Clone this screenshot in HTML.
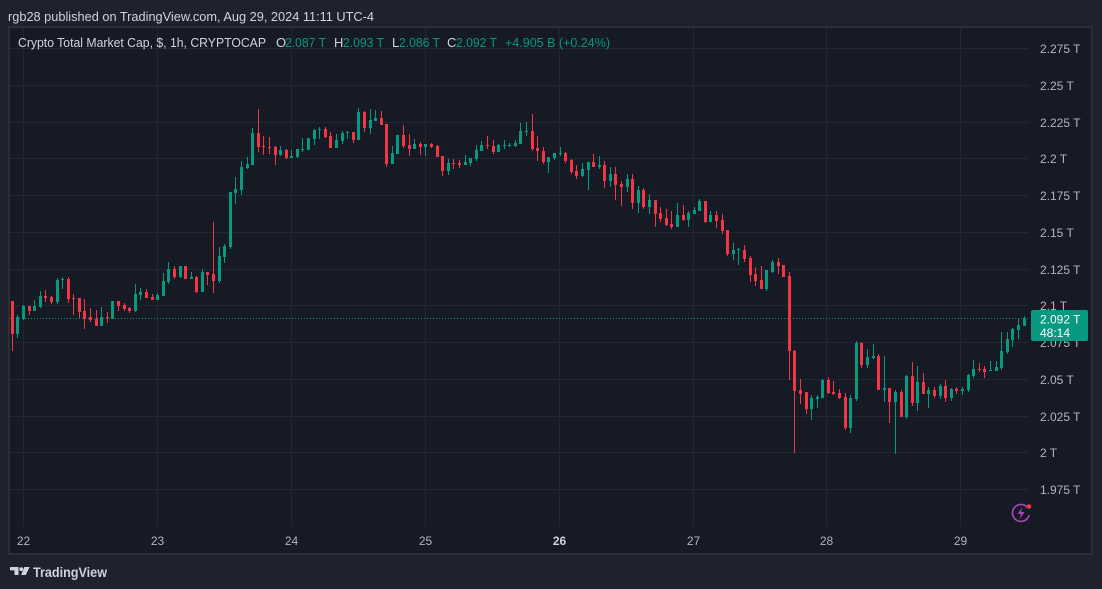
<!DOCTYPE html>
<html><head><meta charset="utf-8"><style>
html,body{margin:0;padding:0;background:#1e222d;width:1102px;height:589px;overflow:hidden}
svg{display:block}
text{font-family:"Liberation Sans",sans-serif}
</style></head><body>
<svg width="1102" height="589" viewBox="0 0 1102 589" xmlns="http://www.w3.org/2000/svg">
<rect x="0" y="0" width="1102" height="589" fill="#1e222d"/>
<text x="8" y="21" font-size="13" fill="#d1d4dc" textLength="366" lengthAdjust="spacingAndGlyphs">rgb28 published on TradingView.com, Aug 29, 2024 11:11 UTC-4</text>
<rect x="9" y="27" width="1083" height="527" fill="#161a25" stroke="#2a2e39" stroke-width="2"/>
<g stroke="#232734" stroke-width="1" shape-rendering="crispEdges">
<path d="M10 48.5H1029M10 85.5H1029M10 122.5H1029M10 158.5H1029M10 195.5H1029M10 232.5H1029M10 269.5H1029M10 305.5H1029M10 342.5H1029M10 379.5H1029M10 416.5H1029M10 452.5H1029M10 489.5H1029"/>
<path d="M23.5 28V526M157.5 28V526M291.5 28V526M425.5 28V526M559.5 28V526M693.5 28V526M826.5 28V526M960.5 28V526"/>
</g>
<text x="18" y="47" font-size="13" fill="#d1d4dc" textLength="248" lengthAdjust="spacingAndGlyphs">Crypto Total Market Cap, $, 1h, CRYPTOCAP</text>
<g font-size="13">
<text x="276" y="47" fill="#d1d4dc">O</text><text x="285" y="47" fill="#089981" textLength="41" lengthAdjust="spacingAndGlyphs">2.087 T</text>
<text x="334" y="47" fill="#d1d4dc">H</text><text x="343" y="47" fill="#089981" textLength="41" lengthAdjust="spacingAndGlyphs">2.093 T</text>
<text x="392" y="47" fill="#d1d4dc">L</text><text x="399" y="47" fill="#089981" textLength="41" lengthAdjust="spacingAndGlyphs">2.086 T</text>
<text x="447" y="47" fill="#d1d4dc">C</text><text x="456" y="47" fill="#089981" textLength="41" lengthAdjust="spacingAndGlyphs">2.092 T</text>
<text x="505" y="47" fill="#089981" textLength="105" lengthAdjust="spacingAndGlyphs">+4.905 B (+0.24%)</text>
</g>
<path d="M10 318.5H1030" stroke="#089981" stroke-width="1" stroke-dasharray="1 2" shape-rendering="crispEdges"/>
<g shape-rendering="crispEdges">
<path fill="none" stroke="#089981" stroke-width="1" d="M17.5 315V338M23.5 305V320M34.5 300V311M40.5 291V308M57.5 278V304M62.5 277V289M101.5 307V326M112.5 301V319M135.5 284V312M140.5 288V300M157.5 293V300M163.5 273V296M168.5 262V284M180.5 266V278M191.5 272V279M202.5 269V292M219.5 247V283M224.5 244V263M230.5 192V249M235.5 177V204M241.5 161V195M247.5 157V169M252.5 128V165M280.5 146V156M291.5 150V158M297.5 149V158M302.5 138V152M308.5 138V150M314.5 129V145M319.5 127V139M336.5 134V148M342.5 131V144M347.5 131V139M358.5 108V140M370.5 109V134M375.5 110V121M392.5 146V164M397.5 135V154M414.5 139V149M425.5 144V156M448.5 159V175M465.5 155V165M470.5 158V166M476.5 145V161M481.5 141V151M498.5 144V152M504.5 140V149M509.5 143V147M515.5 140V147M520.5 123V144M526.5 122V136M548.5 157V173M554.5 153V160M560.5 147V156M582.5 163V177M588.5 162V190M599.5 156V169M610.5 167V187M627.5 174V192M638.5 186V213M649.5 194V214M677.5 203V227M688.5 211V227M694.5 207V214M699.5 199V211M710.5 211V222M733.5 243V260M738.5 248V265M766.5 270V291M772.5 260V273M811.5 395V420M817.5 395V408M822.5 379V398M850.5 395V433M856.5 341V401M867.5 349V368M873.5 344V359M884.5 356V402M895.5 390V454M906.5 375V419M917.5 366V411M928.5 387V408M940.5 384V399M951.5 388V401M962.5 387V395M968.5 374V392M973.5 360V378M990.5 361V371M996.5 361V371M1001.5 332V370M1007.5 332V354M1012.5 328V347M1018.5 319V339M1024.5 316V326"/>
<path fill="#089981" d="M16 317h3V334h-3zM22 306h3V319h-3zM33 306h3V311h-3zM39 296h3V307h-3zM56 280h3V302h-3zM61 279h3V280h-3zM100 317h3V326h-3zM111 301h3V319h-3zM134 294h3V311h-3zM139 292h3V295h-3zM156 295h3V300h-3zM162 281h3V296h-3zM167 269h3V282h-3zM179 266h3V277h-3zM190 277h3V279h-3zM201 272h3V292h-3zM218 256h3V281h-3zM223 246h3V257h-3zM229 192h3V247h-3zM234 189h3V193h-3zM240 167h3V190h-3zM246 164h3V168h-3zM251 133h3V165h-3zM279 150h3V155h-3zM290 156h3V158h-3zM296 149h3V157h-3zM301 149h3V150h-3zM307 138h3V150h-3zM313 130h3V139h-3zM318 129h3V130h-3zM335 140h3V148h-3zM341 133h3V141h-3zM346 132h3V133h-3zM357 112h3V140h-3zM369 120h3V128h-3zM374 118h3V121h-3zM391 153h3V164h-3zM396 135h3V154h-3zM413 144h3V149h-3zM424 144h3V147h-3zM447 163h3V171h-3zM464 162h3V165h-3zM469 158h3V163h-3zM475 150h3V159h-3zM480 145h3V151h-3zM497 145h3V152h-3zM503 145h3V146h-3zM508 145h3V146h-3zM514 143h3V146h-3zM519 131h3V144h-3zM525 131h3V132h-3zM547 157h3V162h-3zM553 153h3V158h-3zM559 153h3V154h-3zM581 169h3V176h-3zM587 162h3V170h-3zM598 165h3V167h-3zM609 174h3V181h-3zM626 179h3V187h-3zM637 190h3V203h-3zM648 200h3V207h-3zM676 215h3V227h-3zM687 213h3V220h-3zM693 210h3V214h-3zM698 201h3V211h-3zM709 215h3V222h-3zM732 250h3V254h-3zM737 249h3V250h-3zM765 270h3V289h-3zM771 262h3V272h-3zM810 398h3V409h-3zM816 397h3V399h-3zM821 380h3V398h-3zM849 398h3V428h-3zM855 343h3V399h-3zM866 357h3V365h-3zM872 356h3V358h-3zM883 388h3V390h-3zM894 392h3V402h-3zM905 376h3V417h-3zM916 382h3V403h-3zM927 390h3V394h-3zM939 386h3V396h-3zM950 389h3V398h-3zM961 389h3V391h-3zM967 375h3V390h-3zM972 369h3V376h-3zM989 370h3V371h-3zM995 367h3V371h-3zM1000 351h3V368h-3zM1006 339h3V352h-3zM1011 329h3V340h-3zM1017 325h3V330h-3zM1023 318h3V326h-3z"/>
<path fill="none" stroke="#f23645" stroke-width="1" d="M12.5 301V351M29.5 306V315M45.5 290V302M51.5 296V304M68.5 277V303M73.5 294V315M79.5 298V318M84.5 299V329M90.5 308V322M96.5 310V326M107.5 312V323M118.5 301V311M124.5 303V311M129.5 307V313M146.5 289V298M152.5 294V300M174.5 266V279M185.5 266V279M196.5 276V293M207.5 272V285M213.5 222V293M258.5 109V152M263.5 136V155M269.5 137V154M275.5 146V165M286.5 149V159M325.5 127V138M330.5 132V148M353.5 132V143M364.5 111V132M381.5 111V125M386.5 124V167M403.5 125V148M409.5 134V156M420.5 142V155M431.5 143V148M437.5 145V157M442.5 156V176M453.5 159V169M459.5 160V168M487.5 136V149M493.5 140V154M532.5 114V151M537.5 136V161M543.5 147V164M565.5 152V163M571.5 159V174M576.5 165V179M593.5 154V167M604.5 161V188M615.5 167V200M621.5 181V206M632.5 174V209M643.5 188V209M655.5 200V227M660.5 207V222M666.5 209V226M671.5 211V229M683.5 205V221M705.5 201V223M716.5 211V228M722.5 214V234M727.5 230V256M744.5 245V262M750.5 256V282M755.5 267V286M761.5 266V289M778.5 258V274M783.5 265V277M789.5 272V380M794.5 350V453M800.5 379V404M806.5 392V414M828.5 377V394M833.5 381V395M839.5 389V399M845.5 393V430M861.5 342V368M878.5 354V390M889.5 388V423M901.5 390V417M912.5 362V406M923.5 373V394M934.5 387V398M945.5 380V402M956.5 387V394M979.5 363V372M984.5 366V378"/>
<path fill="#f23645" d="M11 301h3V334h-3zM28 306h3V311h-3zM44 296h3V298h-3zM50 297h3V302h-3zM67 279h3V299h-3zM72 298h3V299h-3zM78 298h3V312h-3zM83 311h3V319h-3zM89 317h3V320h-3zM95 319h3V326h-3zM106 317h3V318h-3zM117 301h3V306h-3zM123 305h3V309h-3zM128 308h3V311h-3zM145 292h3V298h-3zM151 297h3V300h-3zM173 269h3V277h-3zM184 266h3V279h-3zM195 277h3V292h-3zM206 272h3V275h-3zM212 274h3V281h-3zM257 133h3V147h-3zM262 146h3V147h-3zM268 147h3V148h-3zM274 147h3V155h-3zM285 150h3V158h-3zM324 129h3V137h-3zM329 136h3V148h-3zM352 132h3V140h-3zM363 112h3V128h-3zM380 118h3V125h-3zM385 124h3V164h-3zM402 135h3V146h-3zM408 145h3V149h-3zM419 144h3V147h-3zM430 144h3V147h-3zM436 146h3V157h-3zM441 156h3V171h-3zM452 163h3V164h-3zM458 163h3V165h-3zM486 145h3V146h-3zM492 146h3V152h-3zM531 131h3V149h-3zM536 148h3V151h-3zM542 151h3V162h-3zM564 153h3V161h-3zM570 160h3V172h-3zM575 171h3V176h-3zM592 162h3V167h-3zM603 165h3V181h-3zM614 174h3V185h-3zM620 184h3V187h-3zM631 179h3V203h-3zM642 190h3V207h-3zM654 200h3V214h-3zM659 213h3V219h-3zM665 218h3V225h-3zM670 224h3V227h-3zM682 215h3V220h-3zM704 201h3V222h-3zM715 215h3V221h-3zM721 220h3V231h-3zM726 230h3V254h-3zM743 250h3V259h-3zM749 258h3V275h-3zM754 274h3V281h-3zM760 280h3V289h-3zM777 262h3V266h-3zM782 265h3V277h-3zM788 276h3V351h-3zM793 351h3V391h-3zM799 390h3V394h-3zM805 392h3V409h-3zM827 380h3V393h-3zM832 392h3V394h-3zM838 393h3V398h-3zM844 397h3V428h-3zM860 343h3V365h-3zM877 356h3V390h-3zM888 388h3V402h-3zM900 392h3V417h-3zM911 376h3V403h-3zM922 382h3V394h-3zM933 390h3V396h-3zM944 386h3V398h-3zM955 389h3V391h-3zM978 369h3V370h-3zM983 369h3V372h-3z"/>
</g>
<g font-size="12" fill="#b2b5be">
<text x="1040" y="53">2.275 T</text>
<text x="1040" y="90">2.25 T</text>
<text x="1040" y="127">2.225 T</text>
<text x="1040" y="163">2.2 T</text>
<text x="1040" y="200">2.175 T</text>
<text x="1040" y="237">2.15 T</text>
<text x="1040" y="274">2.125 T</text>
<text x="1040" y="310">2.1 T</text>
<text x="1040" y="347">2.075 T</text>
<text x="1040" y="384">2.05 T</text>
<text x="1040" y="421">2.025 T</text>
<text x="1040" y="457">2 T</text>
<text x="1040" y="494">1.975 T</text>
</g>
<rect x="1031" y="310" width="57" height="31" rx="2" fill="#089981"/>
<text x="1040" y="323.5" font-size="12" fill="#ffffff">2.092 T</text>
<text x="1040" y="337" font-size="12" fill="#ffffff">48:14</text>
<g font-size="12" fill="#b2b5be" text-anchor="middle">
<text x="23.5" y="545">22</text>
<text x="157.5" y="545">23</text>
<text x="291.5" y="545">24</text>
<text x="425.5" y="545">25</text>
<text x="559.5" y="545" font-weight="bold" fill="#d1d4dc">26</text>
<text x="693.5" y="545">27</text>
<text x="826.5" y="545">28</text>
<text x="960.5" y="545">29</text>
</g>
<g>
<path d="M1027.5 507.5 A8.5 8.5 0 1 0 1029.2 515" fill="none" stroke="#ab47bc" stroke-width="1.6"/>
<path d="M1022.5 507 L1017.5 514 H1021 L1019.5 519.5 L1024.5 512 H1021 Z" fill="#ab47bc"/>
<circle cx="1029" cy="506.5" r="2.3" fill="#f23645"/>
</g>
<g fill="#d1d4dc">
<path d="M10 567h8.5v8h-4v-4.6h-4.5z"/>
<circle cx="21.2" cy="569.2" r="1.9"/>
<path d="M24.3 567h5.3l-3.8 8h-4.6z"/>
</g>
<text x="33" y="577" font-size="14" font-weight="bold" fill="#d1d4dc" textLength="74" lengthAdjust="spacingAndGlyphs">TradingView</text>
</svg>
</body></html>
